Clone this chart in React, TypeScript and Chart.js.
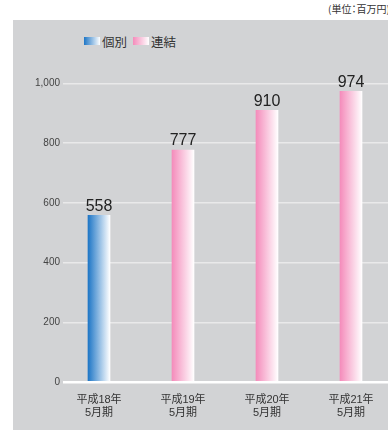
import React, { useEffect, useRef } from "react";
import { Chart, registerables } from "chart.js";

Chart.register(...registerables);

const periods: string[][] = [
  ["平成18年", "5月期"],
  ["平成19年", "5月期"],
  ["平成20年", "5月期"],
  ["平成21年", "5月期"],
];
const individualIdx = [0];
const individualValues = [558];
const consolidatedIdx = [1, 2, 3];
const consolidatedValues = [777, 910, 974];
const yTicks = [0, 200, 400, 600, 800, 1000];
const legendLabels = ["個別", "連結"];
const unitLabel = "(単位：百万円)";

const BLUE = "#1e76c6";
const PINK = "#f48cbb";
const FONT = "'Liberation Sans', 'Noto Sans CJK JP', sans-serif";

const gradFill = (c1: string) => (ctx: any) => {
  if (ctx.type !== "data" || !ctx.raw) return c1;
  const chart = ctx.chart;
  const xs = chart.scales?.x;
  if (!xs) return c1;
  const cx = xs.getPixelForValue(ctx.raw.x);
  if (!isFinite(cx)) return c1;
  const g = chart.ctx.createLinearGradient(cx - 11, 0, cx + 11, 0);
  g.addColorStop(0, c1);
  g.addColorStop(1, "#ffffff");
  return g;
};

const labelPlugin = {
  id: "valueLabels",
  afterDatasetsDraw(chart: any) {
    const ctx = chart.ctx;
    ctx.save();
    ctx.font = `16px ${FONT}`;
    ctx.fillStyle = "#222222";
    ctx.textAlign = "center";
    ctx.textBaseline = "bottom";
    chart.data.datasets.forEach((ds: any, di: number) => {
      const meta = chart.getDatasetMeta(di);
      meta.data.forEach((el: any, i: number) => {
        ctx.fillText(String(ds.data[i].y), el.x, el.y - 1);
      });
    });
    ctx.restore();
  },
};

export default function App() {
  const ref = useRef<HTMLCanvasElement>(null);
  useEffect(() => {
    if (!ref.current) return;
    const chart = new Chart(ref.current, {
      type: "bar",
      data: {
        datasets: [
          {
            label: legendLabels[0],
            data: individualIdx.map((x, i) => ({ x, y: individualValues[i] })),
            backgroundColor: gradFill(BLUE) as any,
            barThickness: 22,
            grouped: false,
          } as any,
          {
            label: legendLabels[1],
            data: consolidatedIdx.map((x, i) => ({ x, y: consolidatedValues[i] })),
            backgroundColor: gradFill(PINK) as any,
            barThickness: 22,
            grouped: false,
          } as any,
        ],
      },
      options: {
        animation: false,
        responsive: false,
        devicePixelRatio: 1,
        layout: { padding: { top: 83.5, right: 0, left: 0, bottom: 0 } },
        plugins: { legend: { display: false }, tooltip: { enabled: false } },
        scales: {
          x: {
            type: "linear",
            bounds: "data",
            offset: false,
            min: (63 - 99) / 84,
            max: (388 - 99) / 84,
            grid: { display: false },
            border: { display: false },
            afterFit: (s: any) => {
              s.height = 51;
            },
            afterBuildTicks: (s: any) => {
              s.ticks = periods.map((_, i) => ({ value: i }));
            },
            ticks: {
              stepSize: 1,
              autoSkip: false,
              maxRotation: 0,
              padding: 3,
              color: "#333333",
              font: { family: FONT, size: 11, lineHeight: 1.2 },
              callback: (v: any) => periods[Math.round(Number(v))] ?? "",
            },
          },
          y: {
            min: 0,
            max: 1000,
            grid: {
              drawTicks: false,
              color: (c: any) => (c.tick && c.tick.value === 0 ? "#ffffff" : "#e9e9ea"),
              lineWidth: (c: any) => (c.tick && c.tick.value === 0 ? 2.5 : 1.5),
            },
            border: { display: false },
            afterFit: (s: any) => {
              s.width = 63;
            },
            afterBuildTicks: (s: any) => {
              s.ticks = yTicks.map((v) => ({ value: v }));
            },
            ticks: {
              padding: 3,
              color: "#444444",
              font: { family: FONT, size: 10 },
              callback: (v: any) => Number(v).toLocaleString("en-US"),
            },
          },
        },
      } as any,
      plugins: [labelPlugin],
    });
    return () => chart.destroy();
  }, []);

  return (
    <div
      style={{
        position: "absolute",
        left: 0,
        top: 0,
        width: 388,
        height: 433,
        overflow: "hidden",
        background: "#ffffff",
        fontFamily: FONT,
      }}
    >
      <div
        style={{
          position: "absolute",
          left: 13,
          top: 20,
          width: 375,
          height: 410,
          background: "#d2d3d5",
        }}
      />
      <div
        style={{
          position: "absolute",
          left: 328,
          top: 2,
          fontSize: 10,
          lineHeight: "13px",
          color: "#333",
          whiteSpace: "nowrap",
          fontFamily: "'Noto Sans CJK JP', sans-serif",
          fontFeatureSettings: '"palt"',
        }}
      >
        {unitLabel}
      </div>
      <div
        style={{
          position: "absolute",
          left: 84,
          top: 33,
          height: 16,
          display: "flex",
          alignItems: "center",
          fontSize: 12.5,
          color: "#333",
          whiteSpace: "nowrap",
        }}
      >
        <span
          style={{
            display: "inline-block",
            width: 16,
            height: 8,
            background: `linear-gradient(to right, ${BLUE}, #ffffff)`,
            marginRight: 2,
          }}
        />
        <span>{legendLabels[0]}</span>
        <span
          style={{
            display: "inline-block",
            width: 16,
            height: 8,
            background: `linear-gradient(to right, ${PINK}, #ffffff)`,
            marginLeft: 6,
            marginRight: 2,
          }}
        />
        <span>{legendLabels[1]}</span>
      </div>
      <canvas
        ref={ref}
        width={388}
        height={433}
        style={{ position: "absolute", left: 0, top: 0, width: 388, height: 433 }}
      />
    </div>
  );
}
